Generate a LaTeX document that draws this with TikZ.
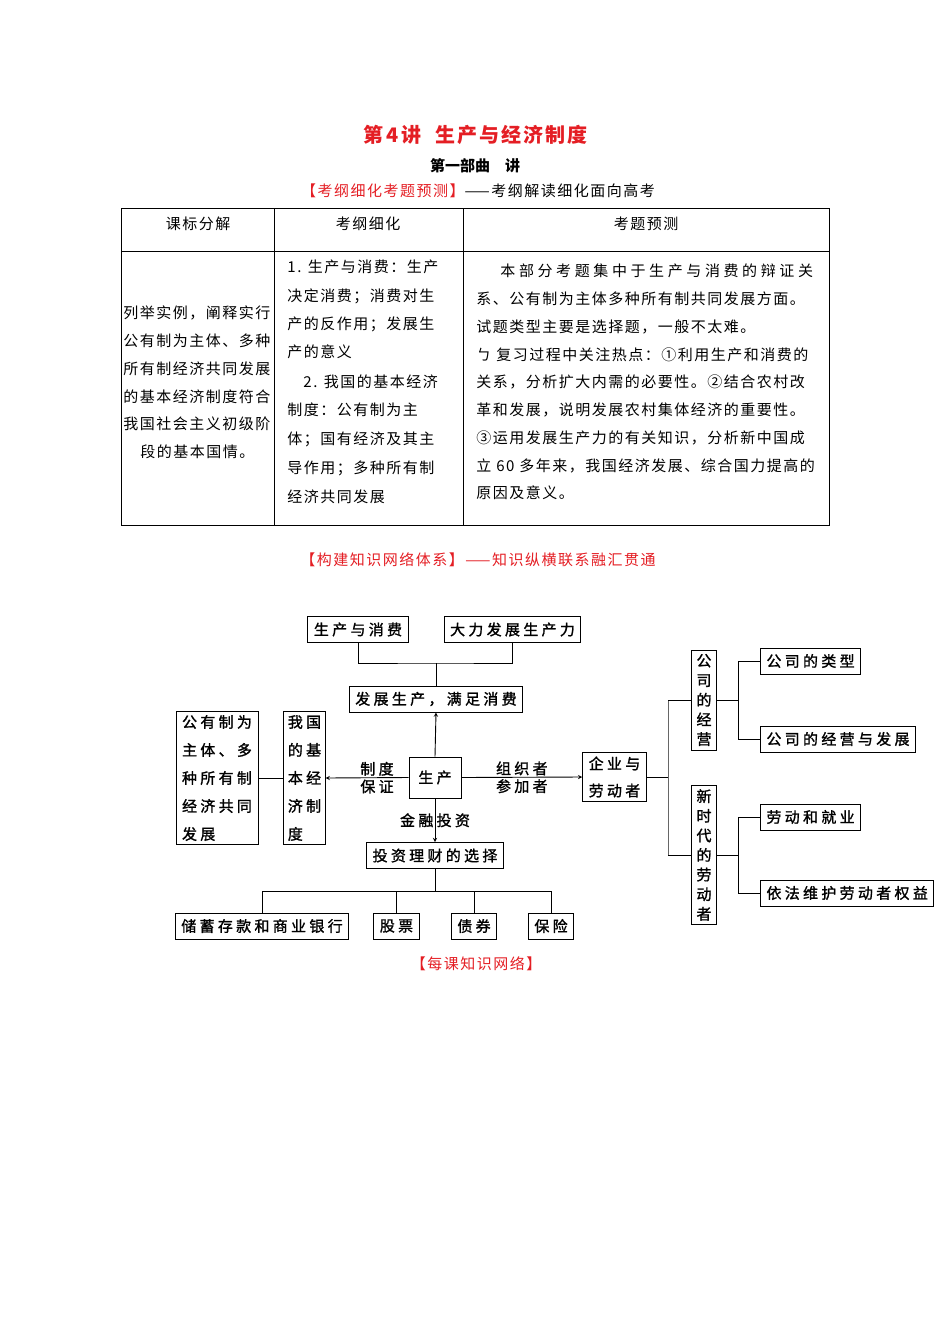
\documentclass[tikz,border=0pt]{standalone}
\usepackage{fontspec}
\setmainfont{Noto Sans CJK SC}
\newfontfamily\tblfont[LetterSpace=10]{Noto Sans CJK SC}
\newfontfamily\widefont[LetterSpace=24]{Noto Sans CJK SC}
\newfontfamily\dgmfont[LetterSpace=22, FakeBold=1.3]{Noto Sans CJK SC}
\newfontfamily\colfont[FakeBold=1.3]{Noto Sans CJK SC}
\definecolor{headred}{RGB}{228,30,36}

\begin{document}
\begin{tikzpicture}[x=1pt, y=-1pt, >=stealth, line width=0.9pt,
    box/.style={draw, inner xsep=6pt, inner ysep=3pt, minimum height=26pt, font=\dgmfont\fontsize{15}{18}\selectfont},
    tallbox/.style={box, align=left, inner ysep=4pt},
    colbox/.style={draw, align=center, inner xsep=5pt, inner ysep=4pt, font=\colfont\fontsize{15}{19.6}\selectfont},
    lbl/.style={inner sep=0pt, font=\dgmfont\fontsize{15}{18}\selectfont},
    cell/.style={anchor=west, inner sep=0pt, font=\tblfont\fontsize{15}{18}\selectfont},
    trunk/.style={draw=black!60, line width=0.8pt}]
    \useasboundingbox (0,0) rectangle (950,1344);

    % headings
    \node[text=headred, font=\tblfont\bfseries\fontsize{20}{24}\selectfont] (title) at (475,135) {第\,4\,讲\ \ 生产与经济制度};
    \node[font=\bfseries\fontsize{15}{18}\selectfont] (part) at (475,166) {第一部曲　讲};
    \node[cell, anchor=center] (sub1) at (478,191) {\textcolor{headred}{【考纲细化考题预测】}——考纲解读细化面向高考};

    % table
    \draw (121,208) rectangle (829,525);
    \draw (274,208) -- (274,525);
    \draw (463,208) -- (463,525);
    \draw (121,251) -- (829,251);
    \node[cell, anchor=center] (h1) at (198,224) {课标分解};
    \node[cell, anchor=center] (h2) at (368,224) {考纲细化};
    \node[cell, anchor=center] (h3) at (646,224) {考题预测};
    \foreach \yy/\xx/\txt in {313/123/列举实例，阐释实行, 341/123/公有制为主体、多种,
        369/123/所有制经济共同发展, 397/123/的基本经济制度符合,
        424/123/我国社会主义初级阶, 452/140/段的基本国情。}
      \node[cell] at (\xx,\yy) {\txt};
    \foreach \yy/\xx/\txt in {267/287/1. 生产与消费：生产, 296/287/决定消费；消费对生,
        324/287/产的反作用；发展生, 352/287/产的意义, 382/303/2. 我国的基本经济,
        410/287/制度：公有制为主, 439/287/体；国有经济及其主,
        468/287/导作用；多种所有制, 497/287/经济共同发展}
      \node[cell] at (\xx,\yy) {\txt};
    \foreach \yy/\xx/\txt in {271/500/{\widefont\fontsize{15}{18}\selectfont 本部分考题集中于生产与消费的辩证关},
        299/476/系、公有制为主体多种所有制共同发展方面。,
        327/476/试题类型主要是选择题，一般不太难。,
        355/476/ㄅ 复习过程中关注热点：①利用生产和消费的,
        382/476/关系，分析扩大内需的必要性。②结合农村改,
        410/476/革和发展，说明发展农村集体经济的重要性。,
        438/476/③运用发展生产力的有关知识，分析新中国成,
        466/476/立 60 多年来，我国经济发展、综合国力提高的,
        493/476/原因及意义。}
      \node[cell] at (\xx,\yy) {\txt};

    \node[cell, anchor=center, text=headred] (sub2) at (478,560) {【构建知识网络体系】——知识纵横联系融汇贯通};

    % knowledge network
    \node[box] (cons) at (358,629.5) {生产与消费};
    \node[box] (force) at (512.5,629.5) {大力发展生产力};
    \node[box] (goal) at (436,699) {发展生产，满足消费};
    \node[box, minimum width=52pt, minimum height=41pt] (prod) at (435,777.5) {生产};
    \node[tallbox, align=center, font=\dgmfont\fontsize{15}{27}\selectfont] (firm) at (614.5,777) {企业与\\劳动者};
    \node[tallbox, font=\dgmfont\fontsize{15}{28}\selectfont] (own) at (217,778) {公有制为\\主体、多\\种所有制\\经济共同\\发展};
    \node[tallbox, inner xsep=4pt, font=\dgmfont\fontsize{15}{28}\selectfont] (basic) at (304.5,778) {我国\\的基\\本经\\济制\\度};
    \node[box] (invest) at (435,855.5) {投资理财的选择};
    \node[box] (save) at (262,926) {储蓄存款和商业银行};
    \node[box] (stock) at (396.5,926) {股票};
    \node[box] (bond) at (474,926) {债券};
    \node[box] (insur) at (551,926) {保险};
    \node[colbox] (comp) at (704,700) {公\\司\\的\\经\\营};
    \node[colbox] (labor) at (704,855) {新\\时\\代\\的\\劳\\动\\者};
    \node[box, anchor=west] (ctype) at (760,661) {公司的类型};
    \node[box, anchor=west] (cdev) at (760,739) {公司的经营与发展};
    \node[box, anchor=west] (jobs) at (760,817) {劳动和就业};
    \node[box, anchor=west] (rights) at (760,893) {依法维护劳动者权益};

    \coordinate (topjoin) at (436,663);
    \coordinate (botjoin) at (435,891);
    \coordinate (rtrunk) at (668,777);

    \draw (cons.south) |- (topjoin) -| (force.south);
    \draw (topjoin) -- (goal.north);
    \draw[->] (prod.north) -- (goal.south);
    \draw[->] (prod.west) -- (basic.east)
        node[lbl, pos=0.38, above=1.5pt] {制度}
        node[lbl, pos=0.38, below=1.5pt] {保证};
    \draw[->] (prod.east) -- (firm.west)
        node[lbl, midway, above=1.5pt] {组织者}
        node[lbl, midway, below=1.5pt] {参加者};
    \draw[->] (prod.south) -- (invest.north) node[lbl, midway] {金融投资};
    \draw (own.east) -- (basic.west);

    \draw (invest.south) -- (botjoin);
    \draw (save.north) |- (botjoin) -| (insur.north);
    \foreach \n in {stock, bond}
      \draw (\n.north) -- (\n.north |- botjoin);

    \draw (firm.east) -- (rtrunk);
    \draw[trunk] (rtrunk |- comp.west) -- (rtrunk |- labor.west);
    \draw (rtrunk |- comp.west) -- (comp.west);
    \draw (rtrunk |- labor.west) -- (labor.west);

    \draw (ctype.west) -- ++(-22,0) coordinate (ct) |- (cdev.west);
    \draw (comp.east) -- (comp.east -| ct);
    \draw (jobs.west) -- ++(-22,0) coordinate (lt) |- (rights.west);
    \draw (labor.east) -- (labor.east -| lt);

    \node[cell, anchor=center, text=headred] (sub3) at (476,964) {【每课知识网络】};
\end{tikzpicture}
\end{document}
